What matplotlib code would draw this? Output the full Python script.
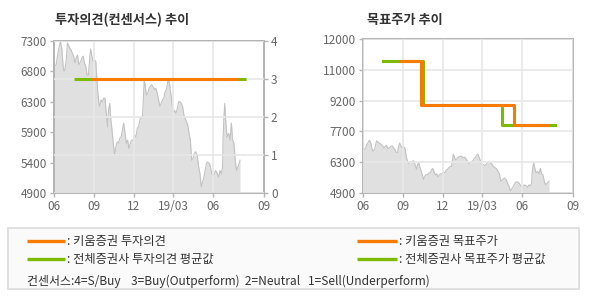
import numpy as np
import matplotlib
matplotlib.use("Agg")
import matplotlib.pyplot as plt
from matplotlib.lines import Line2D

plt.rcParams['font.family'] = ['Noto Sans CJK KR', 'DejaVu Sans']

# ---------------- data ----------------
base_date = np.datetime64('2018-06-01')
# days since 2018-06-01 and closing price (won)
price_days = [1, 5, 9, 12, 15, 18, 21, 23, 25, 28, 31, 33, 36, 39, 42, 45, 48, 51, 54, 57,
              61, 64, 67, 70, 73, 76, 79, 82, 84, 87, 90, 93, 96, 98, 100, 103, 105, 108,
              111, 114, 117, 120, 123, 125, 128, 130, 133, 136, 139, 142, 145, 148, 151,
              154, 157, 160, 163, 166, 169, 172, 175, 178, 182, 185, 188, 191, 194, 197,
              200, 203, 205, 207, 209, 212, 215, 218, 221, 224, 227, 231, 234, 237, 240,
              243, 246, 249, 252, 255, 258, 261, 264, 267, 270, 273, 276, 280, 283, 286,
              289, 292, 295, 298, 301, 304, 307, 310, 313, 315, 316, 319, 322, 325, 329,
              332, 335, 338, 341, 344, 347, 350, 353, 356, 359, 362, 365, 368, 371, 375,
              378, 381, 384, 387, 388, 390, 392, 394, 397, 401, 404, 407, 410, 413, 416,
              419, 422, 425, 427]
price = [6880, 6910, 7100, 7210, 7295, 7160, 6880, 6800, 6830, 6990, 7270, 7240, 7180,
         7160, 7100, 7050, 6940, 7020, 7070, 6910, 6960, 7020, 7050, 6940, 6880, 6740,
         6740, 7020, 7170, 7050, 6960, 6990, 6960, 6720, 6500, 6280, 6240, 6330, 6300,
         6360, 6360, 6150, 5970, 6190, 6280, 6100, 5930, 5720, 5520, 5660, 5740, 5720,
         5800, 5820, 5930, 6020, 5880, 5720, 5770, 5630, 5720, 5770, 5770, 5850, 5820,
         5950, 5970, 6060, 6100, 6100, 6330, 6660, 6580, 6410, 6440, 6520, 6550, 6580,
         6550, 6500, 6520, 6440, 6330, 6240, 6280, 6330, 6360, 6470, 6500, 6630, 6660,
         6500, 6330, 6150, 6190, 6150, 6210, 6300, 6300, 6280, 6240, 6130, 6080, 6040,
         5990, 5880, 5770, 5550, 5440, 5470, 5550, 5580, 5500, 5330, 5220, 5000, 5080,
         5160, 5270, 5390, 5410, 5390, 5330, 5220, 5190, 5220, 5270, 5220, 5160, 5270,
         5220, 5330, 5770, 6100, 6280, 6060, 5820, 5880, 5770, 6020, 5770, 5720, 5440,
         5270, 5330, 5390, 5440]

# consensus opinion (4=S/Buy, 3=Buy, 2=Neutral, 1=Sell)
kiwoom_op_days = [84, 423]
kiwoom_op = [3, 3]
all_op_days = [45, 440]
all_op = [3, 3]

# target price (won), step changes
kiwoom_tp_days = [84, 132, 347, 423]
kiwoom_tp = [11300, 9000, 8000, 8000]
all_tp_days = [46, 138, 320, 440]
all_tp = [11300, 9000, 8000, 8000]

# axis ticks
x_tick_days = [0, 92, 183, 273, 365, 482]
x_tick_labels = ['06', '09', '12', '19/03', '06', '09']
left_price_ticks = [4900, 5400, 5900, 6300, 6800, 7300]
opinion_ticks = [0, 1, 2, 3, 4]
right_price_ticks = [4900, 6300, 7700, 9200, 11000, 12000]

title_left = '투자의견(컨센서스) 추이'
title_right = '목표주가 추이'
legend_left = [': 키움증권 투자의견', ': 전체증권사 투자의견 평균값']
legend_right = [': 키움증권 목표주가', ': 전체증권사 목표주가 평균값']
consensus_note = '컨센서스:4=S/Buy    3=Buy(Outperform)  2=Neutral   1=Sell(Underperform)'

# ---------------- style ----------------
ORANGE = '#F77B00'
GREEN = '#7DBB00'
AREA = '#E0E0E0'
AREA_EDGE = '#C2C2C2'
GRID = '#E8E8E8'
SPINE = '#B4B4B4'
TICKC = '#666666'


def to_dates(days):
    return base_date + np.array(days).astype('timedelta64[D]')


def piecewise_scale(ticks):
    pos = np.arange(len(ticks), dtype=float)
    t = np.array(ticks, dtype=float)

    def fwd(v):
        return np.interp(v, t, pos)

    def inv(p):
        return np.interp(p, pos, t)
    return fwd, inv


def style_axes(ax):
    for s in ax.spines.values():
        s.set_color(SPINE)
        s.set_linewidth(1.4)
    ax.tick_params(colors=SPINE, labelcolor=TICKC, labelsize=8.5, length=3, width=1, pad=2)


fig = plt.figure(figsize=(5.9, 3.0), dpi=100)
W, H = 590.0, 300.0

xd = to_dates(price_days)
xlim = (to_dates([0])[0], to_dates([x_tick_days[-1]])[0])
xticks = to_dates(x_tick_days)

# ---------- left chart ----------
axL = fig.add_axes([54 / W, 1 - 193 / H, 210 / W, 152 / H])
axL.set_yscale('function', functions=piecewise_scale(left_price_ticks))
axL.fill_between(xd, left_price_ticks[0], price, color=AREA, lw=0, zorder=1)
axL.plot(xd, price, color=AREA_EDGE, lw=0.8, zorder=1.5)
axL.set_ylim(left_price_ticks[0], left_price_ticks[-1])
axL.set_yticks(left_price_ticks)
axL.set_yticklabels([str(v) for v in left_price_ticks])
axL.set_xlim(*xlim)
axL.set_xticks(xticks)
axL.set_xticklabels(x_tick_labels)
axL.set_axisbelow(False)
axL.grid(axis='x', color=GRID, lw=1.2, zorder=2)
style_axes(axL)

axR2 = axL.twinx()
axR2.set_ylim(0, 4)
axR2.set_yticks(opinion_ticks)
axR2.grid(axis='y', color=GRID, lw=1.2)
axR2.set_axisbelow(False)
axR2.plot(to_dates(all_op_days), all_op, color=GREEN, lw=2.2, zorder=3, solid_capstyle='butt')
axR2.plot(to_dates(kiwoom_op_days), kiwoom_op, color=ORANGE, lw=2.2, zorder=4, solid_capstyle='butt')
style_axes(axR2)
axL.set_xlim(*xlim)

fig.text(55 / W, 1 - 20 / H, title_left, fontsize=9.5, fontweight='bold', color='#333333',
         va='center', ha='left')

# ---------- right chart ----------
axT = fig.add_axes([363 / W, 1 - 193 / H, 210 / W, 154 / H])
axT.set_yscale('function', functions=piecewise_scale(right_price_ticks))
axT.fill_between(xd, right_price_ticks[0], price, color=AREA, lw=0, zorder=1)
axT.plot(xd, price, color=AREA_EDGE, lw=0.8, zorder=1.5)
axT.plot(to_dates(all_tp_days), all_tp, drawstyle='steps-post', color=GREEN, lw=2.2, zorder=3)
axT.plot(to_dates(kiwoom_tp_days), kiwoom_tp, drawstyle='steps-post', color=ORANGE, lw=2.2, zorder=4)
axT.set_ylim(right_price_ticks[0], right_price_ticks[-1])
axT.set_yticks(right_price_ticks)
axT.set_yticklabels([str(v) for v in right_price_ticks])
axT.set_xlim(*xlim)
axT.set_xticks(xticks)
axT.set_xticklabels(x_tick_labels)
axT.set_axisbelow(False)
axT.grid(True, color=GRID, lw=1.2, zorder=2)
style_axes(axT)

fig.text(367 / W, 1 - 20 / H, title_right, fontsize=9.5, fontweight='bold', color='#333333',
         va='center', ha='left')

# ---------- legend box ----------
box = plt.Rectangle((8 / W, 1 - 289 / H), (579 - 8) / W, (289 - 228) / H,
                    transform=fig.transFigure, facecolor='#FAFAFA', edgecolor='#E0E0E0',
                    lw=1.4, zorder=0)
fig.patches.append(box)

rows_y = [241, 259]
colors = [ORANGE, GREEN]
for i in range(2):
    y = 1 - rows_y[i] / H
    fig.add_artist(Line2D([27 / W, 65 / W], [y, y], transform=fig.transFigure,
                          color=colors[i], lw=2.4, solid_capstyle='butt'))
    fig.text(67 / W, y, legend_left[i], fontsize=8.8, color='#333333', va='center', ha='left')
    fig.add_artist(Line2D([357 / W, 397 / W], [y, y], transform=fig.transFigure,
                          color=colors[i], lw=2.4, solid_capstyle='butt'))
    fig.text(399 / W, y, legend_right[i], fontsize=8.8, color='#333333', va='center', ha='left')

fig.text(27 / W, 1 - 281 / H, consensus_note, fontsize=8.6, color='#333333', va='center', ha='left')

fig.savefig('out.png', dpi=100, facecolor='white')
